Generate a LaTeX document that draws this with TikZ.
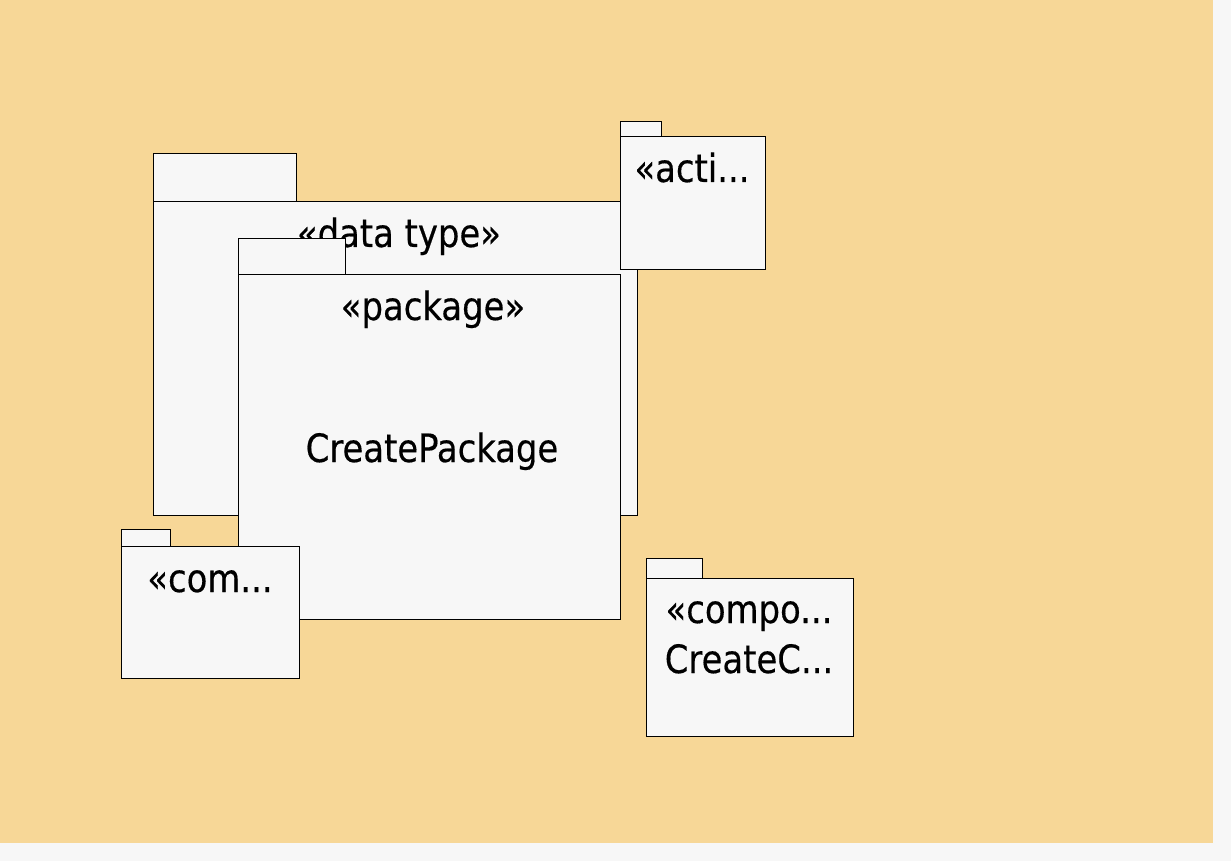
\documentclass[tikz,border=0pt]{standalone}
\usepackage{fontspec}
\newfontfamily\umlfont[FakeStretch=0.965,FakeBold=0.4]{DejaVu Sans Condensed}
\definecolor{bgorange}{HTML}{F7D797}
\definecolor{pagegray}{HTML}{F7F7F7}
\definecolor{pkgfill}{HTML}{F7F7F7}
\tikzset{
  pkg/.style={draw=black, fill=pkgfill, line width=0.9pt},
  lbl/.style={anchor=base, inner sep=0pt, font=\umlfont\fontsize{39}{44}\selectfont, text=black}
}
\begin{document}
\begin{tikzpicture}[x=1pt,y=-1pt]
\useasboundingbox (0,0) rectangle (1231,861);
\fill[pagegray] (0,0) rectangle (1231,861);
\fill[bgorange] (0,0) rectangle (1213,843);
% data type package
\draw[pkg] (153,153) rectangle (296,201);
\draw[pkg] (153,201) rectangle (637,515);
\node[lbl] (dt) at (399,247) {«data type»};
% action package
\draw[pkg] (620,121) rectangle (661,136);
\draw[pkg] (620,136) rectangle (765,269);
\node[lbl] (act) at (692,182) {«acti...};
% main package
\draw[pkg] (238,238) rectangle (345,274);
\draw[pkg] (238,274) rectangle (620,619);
\node[lbl] (pst) at (433,320) {«package»};
\node[lbl] (pname) at (432,462) {CreatePackage};
% com package
\draw[pkg] (121,529) rectangle (170,546);
\draw[pkg] (121,546) rectangle (299,678);
\node[lbl] (com) at (210,592) {«com...};
% compo package
\draw[pkg] (646,558) rectangle (702,578);
\draw[pkg] (646,578) rectangle (853,736);
\node[lbl] (compo) at (749,623) {«compo...};
\node[lbl] (cname) at (749,673) {CreateC...};
\end{tikzpicture}
\end{document}
